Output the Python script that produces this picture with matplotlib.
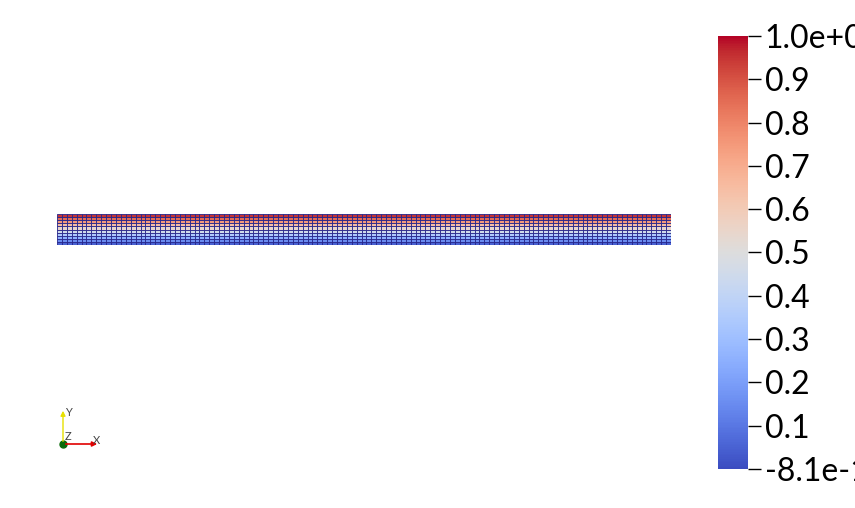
import numpy as np
import matplotlib
matplotlib.use('Agg')
import matplotlib.pyplot as plt
from matplotlib.colors import Normalize

# field values per mesh row (bottom -> top)
row_values = [0.05, 0.15, 0.25, 0.35, 0.45, 0.55, 0.65, 0.75, 0.85, 0.95]
n_cols = 125
field_min = -8.1e-17
field_max = 1.0
cbar_ticks = [1.0, 0.9, 0.8, 0.7, 0.6, 0.5, 0.4, 0.3, 0.2, 0.1, field_min]
cbar_labels = ['1.0e+00', '0.9', '0.8', '0.7', '0.6', '0.5', '0.4', '0.3',
               '0.2', '0.1', '-8.1e-17']

W, H = 855, 508
fig = plt.figure(figsize=(W / 100, H / 100), dpi=100)
fig.patch.set_facecolor('white')
plt.rcParams['font.family'] = ['Lato', 'DejaVu Sans']

norm = Normalize(vmin=field_min, vmax=field_max)
cmap = plt.get_cmap('coolwarm')

# the mesh (surface with edges)
ax = fig.add_axes([57 / W, (H - 245) / H, 614 / W, 31 / H])
xe = np.linspace(0, 20, n_cols + 1)
ye = np.linspace(0, 1, len(row_values) + 1)
vals = np.repeat(np.array(row_values)[:, None], n_cols, axis=1)
ax.pcolormesh(xe, ye, vals, cmap=cmap, norm=norm,
              edgecolors='#26268c', linewidth=0.6, antialiased=True)
ax.set_xlim(0, 20)
ax.set_ylim(0, 1)
ax.axis('off')

# orientation triad
tax = fig.add_axes([0, 0, 1, 1], facecolor='none')
tax.set_xlim(0, W)
tax.set_ylim(H, 0)
tax.axis('off')
ox, oy = 63, 444
tax.annotate('', xy=(ox, 408), xytext=(ox, oy),
             arrowprops=dict(arrowstyle='-|>', color='#e8e000', lw=1.0,
                             mutation_scale=7))
tax.annotate('', xy=(100, oy), xytext=(ox, oy),
             arrowprops=dict(arrowstyle='-|>', color='#e00000', lw=1.2,
                             mutation_scale=7))
tax.plot([ox], [oy], 'o', color='#0a6a0a', markersize=5)
tax.text(65, 412, 'Y', fontsize=8, color='#444444', va='center')
tax.text(93, 440, 'X', fontsize=8, color='#444444', va='center')
tax.text(65, 437, 'Z', fontsize=8, color='#444444', va='center')

# colour bar
cax = fig.add_axes([718 / W, (H - 469) / H, 30 / W, 433 / H])
sm = plt.cm.ScalarMappable(norm=norm, cmap=cmap)
cb = fig.colorbar(sm, cax=cax)
cb.outline.set_visible(False)
cb.set_ticks(cbar_ticks)
cb.set_ticklabels(cbar_labels)
cax.tick_params(axis='y', length=9, width=1, color='black', pad=3,
                labelsize=23, labelcolor='black')

fig.savefig('out.png', dpi=100)
